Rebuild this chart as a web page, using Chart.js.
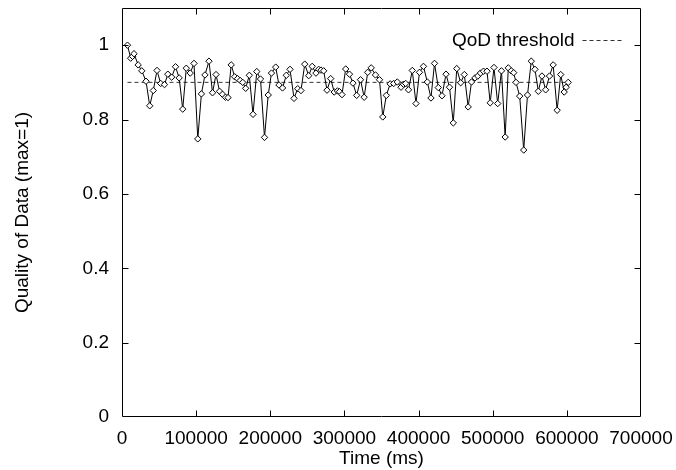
<!DOCTYPE html>
<html>
<head>
<meta charset="utf-8">
<script src="https://cdn.jsdelivr.net/npm/chart.js@4.4.1/dist/chart.umd.min.js"></script>
<style>
  html, body { margin: 0; padding: 0; background: #fff; }
  #wrap { width: 676px; height: 470px; position: relative; }
</style>
</head>
<body>
<div id="wrap"><canvas id="qod"></canvas></div>
<script>
// Quality of Data over time
const timeMs = [
  7400, 11700, 14200, 16200, 21800, 26700, 32400, 37400, 42200, 47200,
  52200, 57300, 61800, 67000, 72200, 77100, 81900, 86700, 92000, 97100,
  102200, 107100, 111900, 117300, 122100, 126800, 131600, 135500, 139600, 143000,
  147300, 152000, 155800, 159400, 162800, 166800, 171700, 176700, 181800, 186800,
  192200, 197200, 201600, 207300, 211700, 216500, 221600, 226600, 232000, 237000,
  241400, 246500, 251800, 256500, 261600, 265300, 268400, 272000, 276500, 281500,
  286200, 290600, 293300, 296700, 301700, 306800, 311500, 316500, 321700, 326600,
  331400, 336100, 341900, 347300, 351700, 356500, 361700, 366400, 371300, 376300,
  379700, 382600, 386400, 391500, 396500, 401200, 406600, 411800, 416700, 421500,
  426600, 431600, 437000, 441700, 446800, 451500, 456800, 461700, 466900, 471400,
  476100, 479900, 483500, 487600, 492300, 496600, 501700, 506700, 511800, 516800,
  521000, 525000, 528300, 531400, 536400, 541800, 546900, 552000, 557000, 561500,
  566400, 571400, 576600, 581500, 586900, 591700, 596400, 599100, 601800
];

const quality = [
  1.000, 0.965, 0.970, 0.977, 0.947, 0.931, 0.903, 0.837, 0.878, 0.932,
  0.897, 0.894, 0.922, 0.914, 0.942, 0.912, 0.828, 0.938, 0.925, 0.951,
  0.748, 0.869, 0.920, 0.957, 0.872, 0.921, 0.876, 0.868, 0.860, 0.859,
  0.947, 0.915, 0.910, 0.905, 0.900, 0.884, 0.919, 0.814, 0.929, 0.909,
  0.752, 0.866, 0.925, 0.941, 0.893, 0.885, 0.919, 0.935, 0.857, 0.883,
  0.878, 0.949, 0.918, 0.943, 0.925, 0.935, 0.933, 0.931, 0.879, 0.910,
  0.874, 0.877, 0.875, 0.867, 0.936, 0.922, 0.898, 0.865, 0.907, 0.860,
  0.927, 0.939, 0.920, 0.907, 0.807, 0.865, 0.896, 0.897, 0.901, 0.887,
  0.895, 0.897, 0.880, 0.932, 0.843, 0.927, 0.943, 0.901, 0.858, 0.951,
  0.886, 0.864, 0.922, 0.887, 0.791, 0.937, 0.899, 0.921, 0.834, 0.901,
  0.912, 0.917, 0.925, 0.930, 0.930, 0.845, 0.940, 0.843, 0.931, 0.753,
  0.939, 0.931, 0.926, 0.900, 0.863, 0.718, 0.866, 0.957, 0.935, 0.876,
  0.917, 0.880, 0.917, 0.947, 0.825, 0.921, 0.874, 0.887, 0.900
];

// threshold line spans the measured range
const thresholdTimes = [7400, 601800];
const thresholdValues = [0.9, 0.9];

const xTickStep = 100000;
const yTickStep = 0.2;

const FONT = "'Liberation Sans', Arial, Helvetica, sans-serif";

function pairs(xs, ys) {
  return xs.map((x, i) => ({ x, y: ys[i] }));
}

// gnuplot-style frame with inward ticks on all four sides + key top right
const framePlugin = {
  id: "frame",
  afterDraw(chart) {
    const { ctx, chartArea: a, scales } = chart;
    const x = scales.x, y = scales.y;
    const L = Math.round(a.left) + 0.5, R = Math.round(a.right) - 0.5;
    const T = Math.round(a.top) + 0.5, B = Math.round(a.bottom) - 0.5;
    const tl = 6;

    ctx.save();
    ctx.strokeStyle = "#000";
    ctx.lineWidth = 1;
    ctx.beginPath();
    ctx.rect(L, T, R - L, B - T);

    for (const t of x.ticks) {
      const px = Math.round(x.getPixelForValue(t.value)) + 0.5;
      if (px <= L + 1 || px >= R - 1) continue;
      ctx.moveTo(px, B); ctx.lineTo(px, B - tl);
      ctx.moveTo(px, T); ctx.lineTo(px, T + tl);
    }
    for (const t of y.ticks) {
      const py = Math.round(y.getPixelForValue(t.value)) + 0.5;
      if (py <= T + 1 || py >= B - 1) continue;
      ctx.moveTo(L, py); ctx.lineTo(L + tl, py);
      ctx.moveTo(R, py); ctx.lineTo(R - tl, py);
    }
    ctx.stroke();

    // key
    const ds = chart.data.datasets[1];
    const ky = Math.round(a.top + 32) + 0.5;
    const sx1 = R - 17, sx0 = sx1 - 41;
    ctx.fillStyle = "#000";
    ctx.font = "19px " + FONT;
    ctx.textAlign = "right";
    ctx.textBaseline = "middle";
    ctx.fillText(ds.label, sx0 - 8, ky);
    ctx.strokeStyle = ds.borderColor;
    ctx.setLineDash(ds.borderDash);
    ctx.beginPath();
    ctx.moveTo(sx0, ky); ctx.lineTo(sx1, ky);
    ctx.stroke();
    ctx.restore();
  }
};

const ctx = document.getElementById("qod").getContext("2d");

new Chart(ctx, {
  type: "line",
  data: {
    datasets: [
      {
        label: "QoD",
        data: pairs(timeMs, quality),
        borderColor: "#000",
        borderWidth: 1,
        pointStyle: "rectRot",
        pointRadius: 3.2,
        pointBackgroundColor: "#fff",
        pointBorderColor: "#000",
        pointBorderWidth: 1,
        tension: 0
      },
      {
        label: "QoD threshold",
        data: pairs(thresholdTimes, thresholdValues),
        borderColor: "#333",
        borderWidth: 1,
        borderDash: [4, 3],
        pointRadius: 0,
        tension: 0
      }
    ]
  },
  options: {
    responsive: true,
    maintainAspectRatio: false,
    animation: false,
    events: [],
    layout: { padding: { top: 8, right: 35, bottom: 0, left: 0 } },
    plugins: {
      legend: { display: false },
      tooltip: { enabled: false }
    },
    scales: {
      x: {
        type: "linear",
        min: 0,
        max: 700000,
        grid: { display: false, drawTicks: false },
        border: { display: false },
        ticks: {
          stepSize: xTickStep,
          padding: 10,
          maxRotation: 0,
          autoSkip: false,
          color: "#000",
          font: { family: FONT, size: 19 },
          callback: (v) => String(v)
        },
        title: {
          display: true,
          text: "Time (ms)",
          color: "#000",
          font: { family: FONT, size: 19 },
          padding: { top: 0, bottom: 0 }
        },
        afterFit(scale) {
          scale.height = 53;
          scale.paddingLeft = 0;
          scale.paddingRight = 0;
        }
      },
      y: {
        type: "linear",
        min: 0,
        max: 1.1,
        grid: { display: false, drawTicks: false },
        border: { display: false },
        ticks: {
          stepSize: yTickStep,
          includeBounds: false,
          padding: 13,
          color: "#000",
          font: { family: FONT, size: 19 },
          callback: (v) => String(Number(v.toFixed(1)))
        },
        title: {
          display: true,
          text: "Quality of Data (max=1)",
          color: "#000",
          font: { family: FONT, size: 19 },
          padding: { top: 11, bottom: 0 }
        },
        afterFit(scale) {
          scale.width = 122;
          scale.paddingTop = 0;
          scale.paddingBottom = 0;
        }
      }
    }
  },
  plugins: [framePlugin]
});
</script>
</body>
</html>
